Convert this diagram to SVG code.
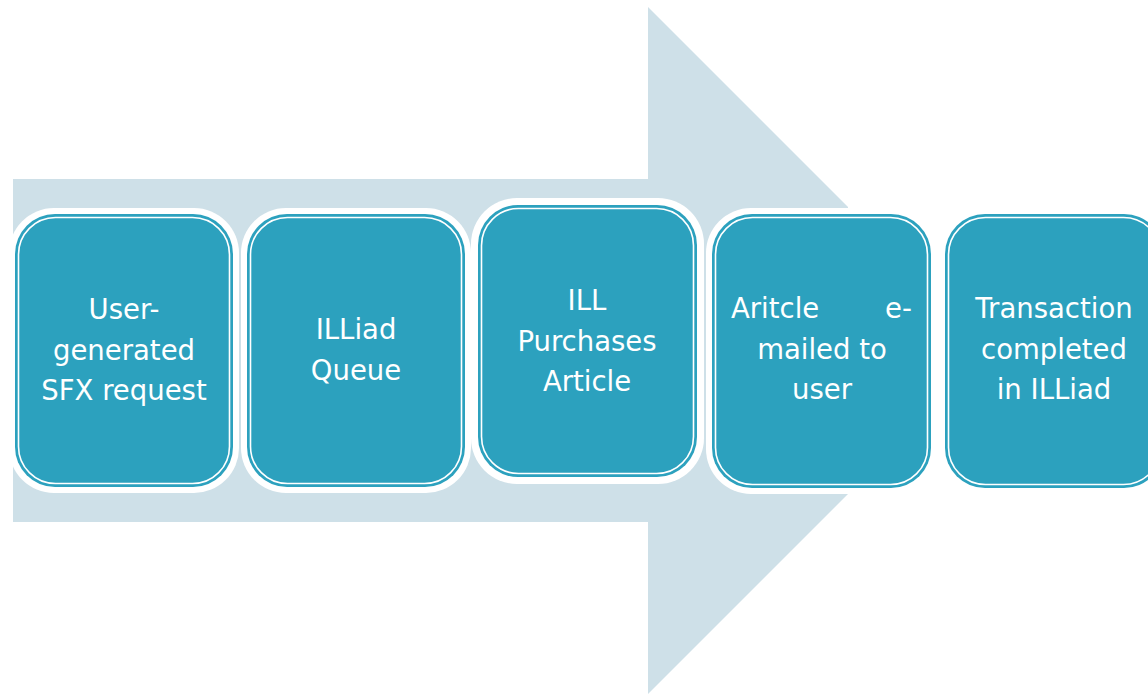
<svg xmlns="http://www.w3.org/2000/svg" width="1148" height="694" viewBox="0 0 1148 694">
<style>
.halo{fill:#ffffff}
.box{fill:#2ca1be}
.inner{fill:none;stroke:#ffffff;stroke-width:1.6}
.lbl{font-family:"DejaVu Sans",sans-serif;font-size:27.5px;fill:#ffffff;text-anchor:middle}
</style>
<rect width="1148" height="694" fill="#ffffff"/>
<g id="connectors">
<polygon points="13,179 648,179 648,7 848,207 848,494 648,694 648,522 13,522" fill="#cee0e8"/>
</g>
<g id="node1">
<rect class="halo" x="9" y="208" width="230" height="285" rx="45"/>
<rect class="box" x="15" y="214" width="218" height="273" rx="40"/>
<rect class="inner" x="18.5" y="217.5" width="211" height="266" rx="37"/>
<text class="lbl"><tspan x="124" y="319">User-</tspan><tspan x="124" y="360">generated</tspan><tspan x="124" y="400">SFX request</tspan></text>
</g>
<g id="node2">
<rect class="halo" x="241" y="208" width="230" height="285" rx="45"/>
<rect class="box" x="247" y="214" width="218" height="273" rx="40"/>
<rect class="inner" x="250.5" y="217.5" width="211" height="266" rx="37"/>
<text class="lbl"><tspan x="356" y="339">ILLiad</tspan><tspan x="356" y="380">Queue</tspan></text>
</g>
<g id="node3">
<rect class="halo" x="471" y="198" width="233" height="286" rx="46"/>
<rect class="box" x="478" y="205" width="219" height="272" rx="40"/>
<rect class="inner" x="481.5" y="208.5" width="212" height="265" rx="37"/>
<text class="lbl"><tspan x="587" y="310">ILL</tspan><tspan x="587" y="351">Purchases</tspan><tspan x="587" y="391">Article</tspan></text>
</g>
<g id="node4">
<rect class="halo" x="706" y="208" width="231" height="286" rx="45"/>
<rect class="box" x="712" y="214" width="219" height="274" rx="40"/>
<rect class="inner" x="715.5" y="217.5" width="212" height="267" rx="37"/>
<text class="lbl"><tspan x="731" y="318" style="text-anchor:start" word-spacing="57">Aritcle e-</tspan><tspan x="822" y="359">mailed to</tspan><tspan x="822" y="399">user</tspan></text>
</g>
<g id="node5">
<rect class="halo" x="939" y="208" width="231" height="286" rx="45"/>
<rect class="box" x="945" y="214" width="219" height="274" rx="40"/>
<rect class="inner" x="948.5" y="217.5" width="212" height="267" rx="37"/>
<text class="lbl"><tspan x="1054" y="318">Transaction</tspan><tspan x="1054" y="359">completed</tspan><tspan x="1054" y="399">in ILLiad</tspan></text>
</g>
</svg>
